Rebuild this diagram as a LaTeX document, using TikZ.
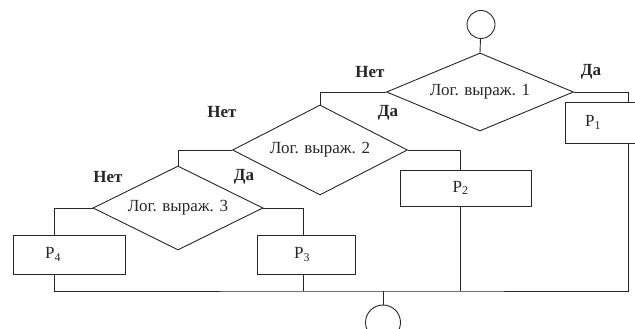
\documentclass[tikz,border=0pt]{standalone}
\usepackage{fontspec}
\setmainfont{Liberation Serif}
\usetikzlibrary{shapes.geometric}

\tikzset{
  every node/.style={font=\fontsize{17}{20}\selectfont},
  cond/.style={diamond, draw, shape aspect=2.2, inner sep=0pt},
  proc/.style={draw, rectangle, inner sep=0pt},
  term/.style={circle, draw, inner sep=0pt},
  ans/.style={font=\fontsize{17}{20}\selectfont\bfseries}
}

\begin{document}
\begin{tikzpicture}[x=1pt, y=1pt, line width=0.9pt, color=black!85]
  \useasboundingbox (0,0) rectangle (635,329);
  \clip (0,0) rectangle (635,329);

  % begin / end
  \node[term, minimum size=28pt] (start) at (481,304.5) {};
  \node[term, minimum size=35pt] (end) at (383,6.5) {};

  % conditions
  \node[cond, minimum width=187pt, minimum height=78pt] (d1) at (480,237) {Лог. выраж. 1};
  \node[cond, minimum width=175pt, minimum height=90pt] (d2) at (320,179) {Лог. выраж. 2};
  \node[cond, minimum width=170pt, minimum height=84pt] (d3) at (178,121) {Лог. выраж. 3};

  % actions
  \node[proc, minimum width=126pt, minimum height=41pt,
        label={[xshift=-35pt]center:Р\textsubscript{1}}] (p1) at (628,206.5) {};
  \node[proc, minimum width=131pt, minimum height=36pt,
        label={[xshift=-5pt]center:Р\textsubscript{2}}] (p2) at (465.5,141) {};
  \node[proc, minimum width=98pt, minimum height=39pt,
        label={[xshift=-4pt]center:Р\textsubscript{3}}] (p3) at (306,74.5) {};
  \node[proc, minimum width=112pt, minimum height=39pt,
        label={[xshift=-16pt]center:Р\textsubscript{4}}] (p4) at (69,74.5) {};

  % branch labels
  \node[ans] (n1) at (370,257) {Нет};
  \node[ans] (y1) at (591,257) {Да};
  \node[ans] (n2) at (222,217) {Нет};
  \node[ans] (y2) at (388,216) {Да};
  \node[ans] (n3) at (108,152) {Нет};
  \node[ans] (y3) at (244,152) {Да};

  \coordinate (join) at (383,38);

  % connectors
  \draw (start) -- (d1.north);
  \draw (d1.east) -| (p1.north);
  \draw (d1.west) -| (d2.north);
  \draw (d2.east) -| ([xshift=-5.5pt]p2.north);
  \draw (d2.west) -| (d3.north);
  \draw (d3.east) -| ([xshift=-3pt]p3.north);
  \draw (d3.west) -| ([xshift=-15pt]p4.north);

  \draw ([xshift=-15pt]p4.south) |- (join) -| (p1.south);
  \draw ([xshift=-3pt]p3.south) -- ([xshift=-3pt]p3.south |- join);
  \draw ([xshift=-5.5pt]p2.south) -- ([xshift=-5.5pt]p2.south |- join);
  \draw (join) -- (end);
\end{tikzpicture}
\end{document}
